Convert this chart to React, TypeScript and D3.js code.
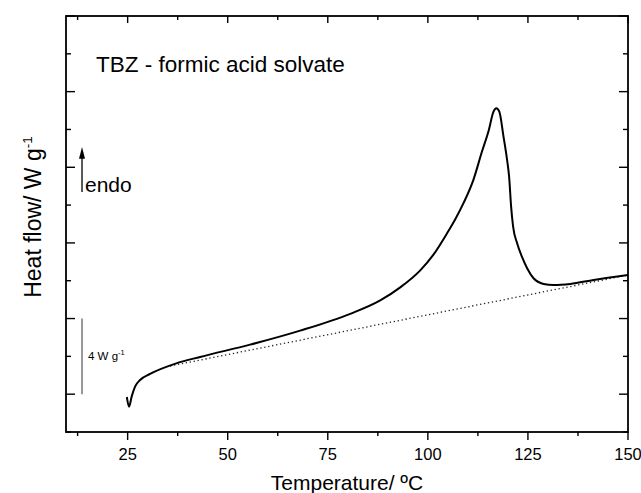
import * as d3 from 'd3';
import React from 'react';

// DSC trace, temperature in ºC, heat flow in W/g (arbitrary offset)
const tempC = [24.8, 25.35, 26.0, 26.85, 28.1, 30.6, 37.3, 43.1, 55.6, 68.1, 80.6, 88.1, 93.1, 98.1, 101.4, 104.8, 106.85, 108.9, 111.4, 113.5, 115.2, 116.4, 117.1, 117.85, 118.9, 119.8, 120.3, 120.8, 121.3, 122.3, 123.5, 124.8, 126.4, 128.9, 131.4, 135.6, 141.4, 150];
const heatFlow = [-0.15, -0.66, -0.13, 0.4, 0.75, 1.07, 1.64, 1.97, 2.62, 3.36, 4.25, 4.96, 5.65, 6.55, 7.38, 8.51, 9.25, 10.1, 11.35, 12.82, 13.95, 14.94, 15.12, 14.94, 13.62, 12.38, 11.5, 9.92, 8.86, 7.98, 7.27, 6.66, 6.13, 5.83, 5.77, 5.83, 6.04, 6.3];

// straight baseline under the peak
const baseT = [35.6, 150];
const baseV = [1.49, 6.3];

const xMajor = [25, 50, 75, 100, 125, 150];
const xMinor = [12.5, 37.5, 62.5, 87.5, 112.5, 137.5];
const yMajor = [0, 4, 8, 12, 16, 20];
const yMinor = [-2, 2, 6, 10, 14, 18];

const W = 641, H = 493;
const margin = { top: 16, right: 13, bottom: 61, left: 66 };
const font = "'Liberation Sans', Arial, sans-serif";

export default function App() {
  const x = d3.scaleLinear().domain([9.6, 150]).range([margin.left, W - margin.right]);
  const y = d3.scaleLinear().domain([-2, 20]).range([H - margin.bottom, margin.top]);
  const x0 = x.range()[0], x1 = x.range()[1];
  const y0 = y.range()[0], y1 = y.range()[1];

  const pts = tempC.map((t, i) => [t, heatFlow[i]] as [number, number]);
  const line = d3.line<[number, number]>()
    .x(d => x(d[0]))
    .y(d => y(d[1]))
    .curve(d3.curveMonotoneX);
  const basePts = baseT.map((t, i) => [t, baseV[i]] as [number, number]);

  const barX = x(13.6);
  return (
    <svg width={W} height={H} style={{ position: 'absolute', left: 0, top: 0, background: '#fff' }} fontFamily={font}>
      <rect x={0} y={0} width={W} height={H} fill="#fff" />
      {/* ticks */}
      {xMajor.map(t => (
        <g key={'xm' + t} stroke="#000" strokeWidth={1.4}>
          <line x1={x(t)} x2={x(t)} y1={y0} y2={y0 + 8} />
          <line x1={x(t)} x2={x(t)} y1={y1} y2={y1 + 7} />
        </g>
      ))}
      {xMinor.map(t => (
        <g key={'xn' + t} stroke="#000" strokeWidth={1.4}>
          <line x1={x(t)} x2={x(t)} y1={y0} y2={y0 + 4} />
          <line x1={x(t)} x2={x(t)} y1={y1} y2={y1 + 4} />
        </g>
      ))}
      {yMajor.map(v => (
        <g key={'ym' + v} stroke="#000" strokeWidth={1.4}>
          <line x1={x0} x2={x0 + 9} y1={y(v)} y2={y(v)} />
          <line x1={x1} x2={x1 - 9} y1={y(v)} y2={y(v)} />
        </g>
      ))}
      {yMinor.map(v => (
        <g key={'yn' + v} stroke="#000" strokeWidth={1.4}>
          <line x1={x0} x2={x0 + 5} y1={y(v)} y2={y(v)} />
          <line x1={x1} x2={x1 - 5} y1={y(v)} y2={y(v)} />
        </g>
      ))}
      <rect x={x0} y={y1} width={x1 - x0} height={y0 - y1} fill="none" stroke="#000" strokeWidth={1.8} />
      {xMajor.map(t => (
        <text key={'xl' + t} x={x(t)} y={460} textAnchor="middle" fontSize={16.5} fill="#000">{t}</text>
      ))}
      <text x={347} y={490} textAnchor="middle" fontSize={21} fill="#000">Temperature/ ºC</text>
      <text transform={`translate(41,217) rotate(-90)`} textAnchor="middle" fontSize={23} fill="#000">
        Heat flow/ W g<tspan dy={-9} fontSize={13.5}>-1</tspan>
      </text>

      {/* curves */}
      <path d={line(basePts) || ''} fill="none" stroke="#222" strokeWidth={1.3} strokeDasharray="1.3,2.7" />
      <path d={line(pts) || ''} fill="none" stroke="#000" strokeWidth={2} strokeLinejoin="round" />

      {/* annotations */}
      <text x={96} y={72} fontSize={22.5} fill="#000">TBZ - formic acid solvate</text>
      <line x1={barX} x2={barX} y1={y(10.69)} y2={y(12.6)} stroke="#000" strokeWidth={1.3} />
      <path d={`M${barX},${y(13.07)} L${barX - 3},${y(12.45)} L${barX + 3},${y(12.45)} Z`} fill="#000" />
      <text x={85} y={192} fontSize={21} fill="#000">endo</text>
      <line x1={barX} x2={barX} y1={y(0)} y2={y(4)} stroke="#555" strokeWidth={1.2} />
      <text x={88} y={360} fontSize={11.5} fill="#000">
        4 W g<tspan dy={-5} fontSize={7.5}>-1</tspan>
      </text>
    </svg>
  );
}
